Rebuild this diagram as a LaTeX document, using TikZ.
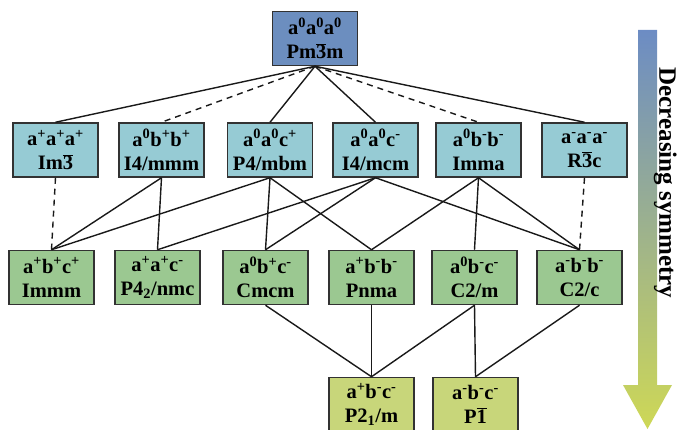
\documentclass[tikz,border=0pt]{standalone}
\usepackage{fontspec}
\setmainfont{Liberation Serif}
\definecolor{c0}{RGB}{108,142,191}
\definecolor{c1}{RGB}{150,203,212}
\definecolor{c2}{RGB}{155,200,145}
\definecolor{c3}{RGB}{200,214,122}
\definecolor{boxline}{RGB}{50,50,50}
\definecolor{atop}{RGB}{108,140,196}
\definecolor{abot}{RGB}{206,216,86}
\newcommand{\ovl}[1]{$\overline{\mbox{#1}}$}
\newcommand{\sps}[1]{\textsuperscript{#1}}
\begin{document}
\begin{tikzpicture}[x=1pt,y=-1pt,
  box/.style={draw=boxline, line width=1.5pt, minimum width=85pt, minimum height=54pt,
    inner sep=0pt, align=center, font=\fontsize{20.5}{24}\selectfont\bfseries},
  lv0/.style={box, fill=c0},
  lv1/.style={box, fill=c1},
  lv2/.style={box, fill=c2},
  lv3/.style={box, fill=c3},
  link/.style={line width=1.4pt, black!90},
  dlink/.style={link, dash pattern=on 6pt off 5pt}]
\useasboundingbox (0,0) rectangle (680,430);
\clip (0,0) rectangle (680,430);
% arrow
\shade[top color=atop, bottom color=abot] (638,30) -- (657,30) -- (657,385) -- (672,385) -- (647.5,429) -- (623,385) -- (638,385) -- cycle;
\node[rotate=-90, anchor=north, font=\fontsize{25}{28}\selectfont\bfseries, inner sep=0pt] (lab) at (677,183) {Decreasing symmetry};
% nodes
\node[lv0] (t) at (315,38.5) {a\sps{0}a\sps{0}a\sps{0}\\Pm\ovl{3}m};
\node[lv1] (a1) at (55.5,150) {a\sps{+}a\sps{+}a\sps{+}\\Im\ovl{3}};
\node[lv1] (a2) at (161.5,150) {a\sps{0}b\sps{+}b\sps{+}\\I4/mmm};
\node[lv1] (a3) at (270,150) {a\sps{0}a\sps{0}c\sps{+}\\P4/mbm};
\node[lv1] (a4) at (375.5,150) {a\sps{0}a\sps{0}c\sps{-}\\I4/mcm};
\node[lv1] (a5) at (478.5,150) {a\sps{0}b\sps{-}b\sps{-}\\Imma};
\node[lv1] (a6) at (584.5,150) {a\sps{-}a\sps{-}a\sps{-}\\R\ovl{3}c};
\node[lv2] (b1) at (51.5,277.5) {a\sps{+}b\sps{+}c\sps{+}\\Immm};
\node[lv2] (b2) at (157.5,277.5) {a\sps{+}a\sps{+}c\sps{-}\\P4\textsubscript{2}/nmc};
\node[lv2] (b3) at (265.5,277.5) {a\sps{0}b\sps{+}c\sps{-}\\Cmcm};
\node[lv2] (b4) at (371.5,277.5) {a\sps{+}b\sps{-}b\sps{-}\\Pnma};
\node[lv2] (b5) at (474.5,277.5) {a\sps{0}b\sps{-}c\sps{-}\\C2/m};
\node[lv2] (b6) at (579.5,277.5) {a\sps{-}b\sps{-}b\sps{-}\\C2/c};
\node[lv3] (c1) at (371.5,404.5) {a\sps{+}b\sps{-}c\sps{-}\\P2\textsubscript{1}/m};
\node[lv3] (c2) at (475.5,404.5) {a\sps{-}b\sps{-}c\sps{-}\\P\ovl{1}};
% links top -> row 2
\draw[link] (t.south) -- (a1.north);
\draw[dlink] (t.south) -- (a2.north);
\draw[link] (t.south) -- (a3.north);
\draw[link] (t.south) -- (a4.north);
\draw[dlink] (t.south) -- (a5.north);
\draw[link] (t.south) -- (a6.north);
% row 2 -> row 3
\draw[dlink] (a1.south) -- (b1.north);
\draw[link] (a2.south) -- (b1.north);
\draw[link] (a2.south) -- (b2.north);
\draw[link] (a3.south) -- (b1.north);
\draw[link] (a3.south) -- (b3.north);
\draw[link] (a3.south) -- (b4.north);
\draw[link] (a4.south) -- (b2.north);
\draw[link] (a4.south) -- (b3.north);
\draw[link] (a4.south) -- (b6.north);
\draw[link] (a5.south) -- (b4.north);
\draw[link] (a5.south) -- (b5.north);
\draw[link] (a5.south) -- (b6.north);
\draw[dlink] (a6.south) -- (b6.north);
% row 3 -> row 4
\draw[link] (b3.south) -- (c1.north);
\draw[link] (b4.south) -- (c1.north);
\draw[link] (b5.south) -- (c1.north);
\draw[link] (b5.south) -- (c2.north);
\draw[link] (b6.south) -- (c2.north);
\end{tikzpicture}
\end{document}
